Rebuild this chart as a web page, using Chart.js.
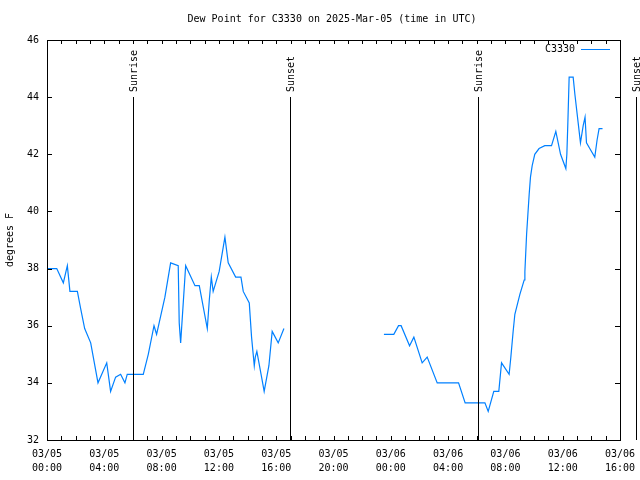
<!DOCTYPE html>
<html>
<head>
<meta charset="utf-8">
<script src="https://cdn.jsdelivr.net/npm/chart.js@4"></script>
<style>
  html, body { margin: 0; padding: 0; background: #fff; }
  #wrap { width: 640px; height: 480px; }
</style>
</head>
<body>
<div id="wrap"><canvas id="dewChart" width="640" height="480"></canvas></div>
<script>
// hours since 2025-03-05 00:00 UTC
const hours = [0, 0.68, 1.14, 1.42, 1.6, 2.12, 2.35, 2.63, 3.05, 3.56, 4.17, 4.44, 4.79, 5.14, 5.44, 5.6,
  6.72, 7.07, 7.47, 7.65, 8.23, 8.63, 9.16, 9.23, 9.33, 9.68, 10.33, 10.63, 11.19, 11.33, 11.47, 11.6,
  12.02, 12.42, 12.65, 13.17, 13.54, 13.7, 14.12, 14.28, 14.47, 14.54, 14.65, 14.98, 15.16, 15.49, 15.72,
  16.14, 16.54, 20, 23.52, 24.21, 24.54, 24.72, 25.31, 25.61, 26.19, 26.54, 27.24, 28.73, 29.19, 30.57,
  30.8, 31.19, 31.54, 31.73, 32.26, 32.38, 32.54, 32.66, 33.01, 33.31, 33.36, 33.48, 33.57, 33.66, 33.75,
  33.87, 34.05, 34.35, 34.75, 35.22, 35.52, 35.85, 36.22, 36.29, 36.36, 36.45, 36.73, 36.85, 37.08, 37.24,
  37.43, 37.56, 37.66, 37.89, 38.24, 38.4, 38.54, 38.78];
const dewPoint = [38.0, 38.0, 37.5, 38.1, 37.2, 37.2, 36.6, 35.9, 35.4, 34.0, 34.7, 33.7, 34.2, 34.3, 34.0, 34.3,
  34.3, 35.0, 36.0, 35.7, 37.0, 38.2, 38.1, 36.1, 35.4, 38.1, 37.4, 37.4, 35.9, 36.9, 37.7, 37.2,
  37.9, 39.1, 38.2, 37.7, 37.7, 37.2, 36.8, 35.6, 34.6, 34.9, 35.1, 34.2, 33.7, 34.6, 35.8,
  35.4, 35.9, null, 35.7, 35.7, 36.0, 36.0, 35.3, 35.6, 34.7, 34.9, 34.0, 34.0, 33.3, 33.3,
  33.0, 33.7, 33.7, 34.7, 34.3, 34.9, 35.8, 36.4, 37.1, 37.6, 37.9, 39.2, 39.9, 40.6, 41.2,
  41.6, 42.0, 42.2, 42.3, 42.3, 42.8, 42.0, 41.5, 42.0, 43.1, 44.7, 44.7, 44.1, 43.1, 42.4,
  43.0, 43.3, 42.4, 42.2, 41.9, 42.5, 42.9, 42.9];

const xTickDates = ["03/05", "03/05", "03/05", "03/05", "03/05", "03/05", "03/06", "03/06", "03/06", "03/06", "03/06"];
const xTickTimes = ["00:00", "04:00", "08:00", "12:00", "16:00", "20:00", "00:00", "04:00", "08:00", "12:00", "16:00"];

const sunHours = [6.0, 16.97, 30.08, 41.1];
const sunLabels = ["Sunrise", "Sunset", "Sunrise", "Sunset"];

const TITLE = "Dew Point for C3330 on 2025-Mar-05 (time in UTC)";
const FONT = "'DejaVu Sans Mono', 'Liberation Mono', monospace";
const LINE_COLOR = "#0080ff";

const framePlugin = {
  id: "frame",
  afterDraw(chart) {
    const ctx = chart.ctx;
    const a = chart.chartArea;
    const xs = chart.scales.x, ys = chart.scales.y;
    ctx.save();
    ctx.strokeStyle = "#000";
    ctx.lineWidth = 1;
    ctx.beginPath();
    xs.ticks.forEach(t => {
      const px = Math.round(xs.getPixelForValue(t.value)) + 0.5;
      ctx.moveTo(px, a.bottom); ctx.lineTo(px, a.bottom - 4);
      ctx.moveTo(px, a.top); ctx.lineTo(px, a.top + 4);
    });
    ys.ticks.forEach(t => {
      const py = Math.round(ys.getPixelForValue(t.value)) + 0.5;
      ctx.moveTo(a.left, py); ctx.lineTo(a.left + 5, py);
      ctx.moveTo(a.right, py); ctx.lineTo(a.right - 5, py);
    });
    ctx.stroke();
    ctx.strokeRect(Math.round(a.left) + 0.5, Math.round(a.top) + 0.5,
      Math.round(a.right - a.left), Math.round(a.bottom - a.top));

    ctx.font = "10px " + FONT;
    ctx.fillStyle = "#000";

    // title
    ctx.textAlign = "center";
    ctx.textBaseline = "middle";
    ctx.fillText(TITLE, 332, 19);

    // sunrise / sunset markers
    sunHours.forEach((h, i) => {
      const px = Math.round(xs.getPixelForValue(h)) + 0.5;
      ctx.beginPath();
      ctx.moveTo(px, 97);
      ctx.lineTo(px, a.bottom);
      ctx.stroke();
      ctx.save();
      ctx.translate(px + 1, 92);
      ctx.rotate(-Math.PI / 2);
      ctx.textAlign = "left";
      ctx.textBaseline = "middle";
      ctx.fillText(sunLabels[i], 0, 0);
      ctx.restore();
    });

    // legend
    const ds = chart.data.datasets[0];
    ctx.textAlign = "right";
    ctx.textBaseline = "middle";
    ctx.fillText(ds.label, 575, 49);
    ctx.strokeStyle = LINE_COLOR;
    ctx.beginPath();
    ctx.moveTo(581, 49.5);
    ctx.lineTo(610, 49.5);
    ctx.stroke();
    ctx.restore();
  }
};

new Chart(document.getElementById("dewChart"), {
  type: "line",
  data: {
    datasets: [{
      label: "C3330",
      data: hours.map((h, i) => ({ x: h, y: dewPoint[i] })),
      borderColor: LINE_COLOR,
      borderWidth: 1.2,
      pointRadius: 0,
      tension: 0,
      spanGaps: false
    }]
  },
  options: {
    responsive: false,
    animation: false,
    layout: { padding: { left: 0, right: 20, top: 40, bottom: 0 } },
    plugins: {
      legend: { display: false },
      tooltip: { enabled: false },
      title: { display: false }
    },
    scales: {
      x: {
        type: "linear",
        min: 0,
        max: 40,
        grid: { display: false, drawTicks: false },
        border: { display: false },
        afterFit(scale) {
          scale.height = 40;
          scale.paddingLeft = 0;
          scale.paddingRight = 0;
        },
        ticks: {
          stepSize: 1,
          autoSkip: false,
          maxRotation: 0,
          padding: 7,
          color: "#000",
          font: { family: FONT, size: 10, lineHeight: 1.4 },
          callback(v) {
            if (v % 4 !== 0) return "";
            const k = v / 4;
            return [xTickDates[k], xTickTimes[k]];
          }
        }
      },
      y: {
        min: 32,
        max: 46,
        grid: { display: false, drawTicks: false },
        border: { display: false },
        afterFit(scale) { scale.width = 47; },
        title: {
          display: true,
          text: "degrees F",
          color: "#000",
          font: { family: FONT, size: 10 },
          padding: { top: 4, bottom: 0 }
        },
        ticks: {
          stepSize: 2,
          padding: 8,
          color: "#000",
          font: { family: FONT, size: 10 }
        }
      }
    }
  },
  plugins: [framePlugin]
});
</script>
</body>
</html>
